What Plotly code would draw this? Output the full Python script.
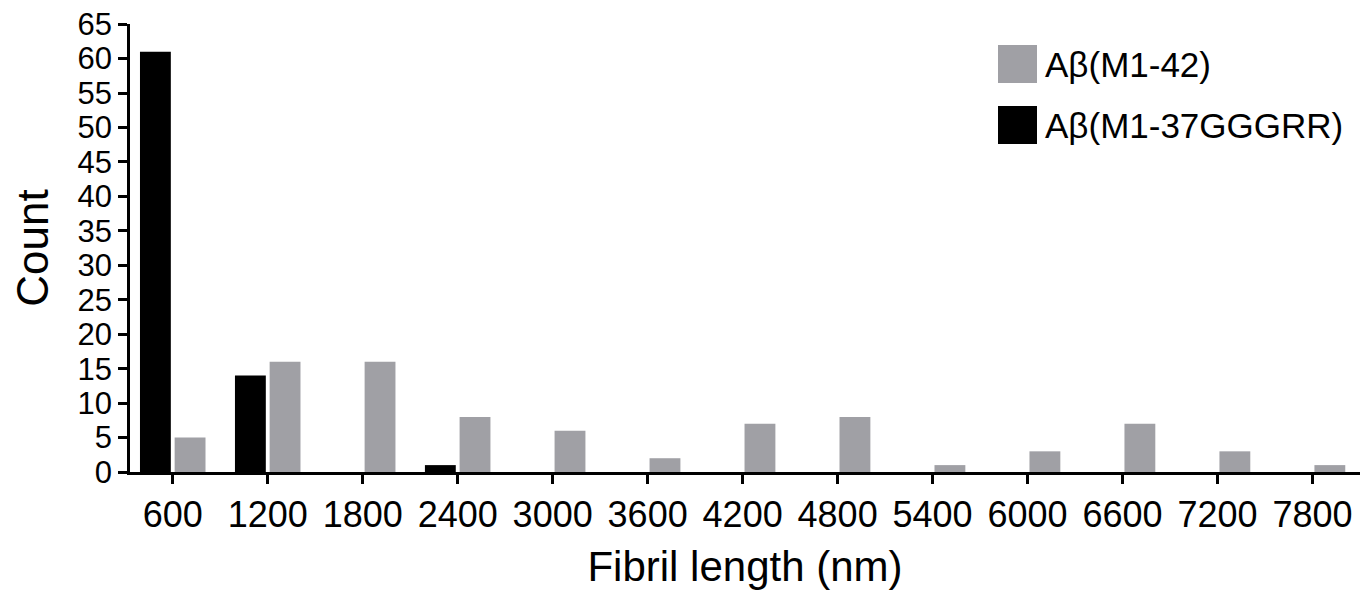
import plotly.graph_objects as go

categories = ["600", "1200", "1800", "2400", "3000", "3600", "4200",
              "4800", "5400", "6000", "6600", "7200", "7800"]
count_m1_37gggrr = [61, 14, 0, 1, 0, 0, 0, 0, 0, 0, 0, 0, 0]
count_m1_42 = [5, 16, 16, 8, 6, 2, 7, 8, 1, 3, 7, 3, 1]
y_ticks = list(range(0, 66, 5))

GRAY = "#a0a0a5"
BLACK = "#000000"
FONT = "Liberation Sans, Arial, sans-serif"

W, H = 1370, 594
OFF = 8  # page body margin
ML, MR, MT, MB = 122, 18, 16, 130
PW, PH = W - ML - MR, H - MT - MB


def px_to_paper(px, py):
    # px, py are screen pixels; convert to figure then paper coords
    fx, fy = px - OFF, py - OFF
    return (fx - ML) / PW, (H - MB - fy) / PH


fig = go.Figure()
fig.add_trace(go.Bar(x=categories, y=count_m1_37gggrr, name="Aβ(M1-37GGGRR)",
                     marker=dict(color=BLACK, line=dict(width=0))))
fig.add_trace(go.Bar(x=categories, y=count_m1_42, name="Aβ(M1-42)",
                     marker=dict(color=GRAY, line=dict(width=0))))

# Legend drawn as shapes + text
legend_items = [("Aβ(M1-42)", GRAY, 45, 83), ("Aβ(M1-37GGGRR)", BLACK, 106, 144)]
shapes = []
annotations = []
for label, color, top, bottom in legend_items:
    x0, y0 = px_to_paper(998, bottom)
    x1, y1 = px_to_paper(1037, top)
    shapes.append(dict(type="rect", xref="paper", yref="paper", x0=x0, x1=x1,
                       y0=y0, y1=y1, fillcolor=color, line=dict(width=0)))
    tx, ty = px_to_paper(1043, (top + bottom) / 2)
    annotations.append(dict(text=label, xref="paper", yref="paper", x=tx, y=ty,
                            xanchor="left", yanchor="middle", showarrow=False,
                            font=dict(size=35, color="black", family=FONT)))

fig.update_layout(
    width=W, height=H,
    margin=dict(l=ML, r=MR, t=MT, b=MB, autoexpand=False),
    plot_bgcolor="white", paper_bgcolor="white",
    barmode="group", bargap=0.27, bargroupgap=0.11,
    showlegend=False,
    shapes=shapes, annotations=annotations,
    font=dict(family=FONT, color="black"),
    xaxis=dict(
        type="category", range=[-0.45, 12.5], automargin=False,
        showline=True, linecolor="black", linewidth=2.5,
        ticks="outside", ticklen=9, tickwidth=2.5, tickcolor="black",
        tickfont=dict(size=36, family=FONT), ticklabeloverflow="allow",
        showgrid=False, zeroline=False,
        title=dict(text="Fibril length (nm)", font=dict(size=42, family=FONT), standoff=18),
    ),
    yaxis=dict(
        range=[0, 65.02], tickvals=y_ticks, automargin=False,
        showline=True, linecolor="black", linewidth=2.5,
        ticks="outside", ticklen=9, tickwidth=2.5, tickcolor="black",
        tickfont=dict(size=31, family=FONT), ticklabeloverflow="allow",
        showgrid=False, zeroline=False,
        title=dict(text="Count", font=dict(size=44, family=FONT), standoff=24),
    ),
)

fig.write_html("out.html")
